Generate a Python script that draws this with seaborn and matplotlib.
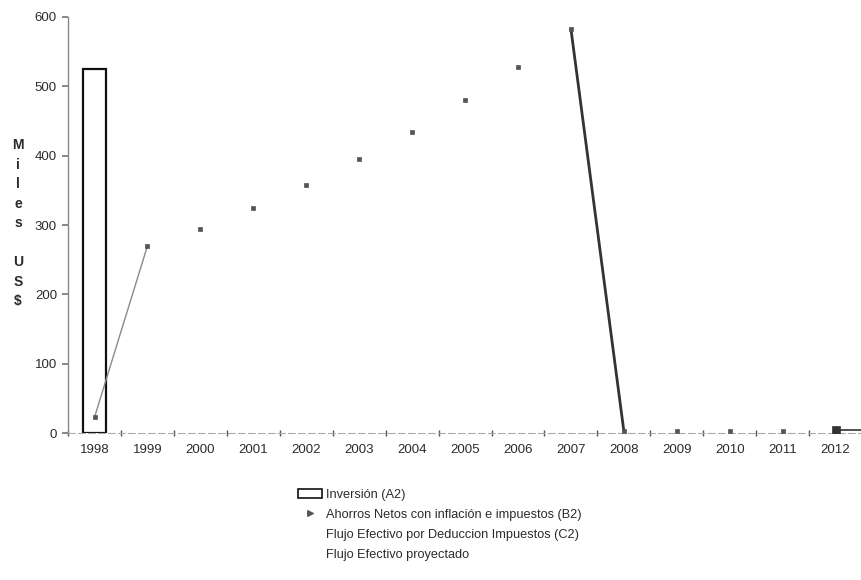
import numpy as np
import pandas as pd
import matplotlib
matplotlib.use("Agg")
import matplotlib.pyplot as plt
from matplotlib.patches import Patch
from matplotlib.lines import Line2D
import seaborn as sns

sns.set_theme(style="white")
plt.rcParams["font.family"] = ["Liberation Sans", "DejaVu Sans"]

# Data (miles de US$)
anios = ["1998", "1999", "2000", "2001", "2002", "2003", "2004", "2005",
         "2006", "2007", "2008", "2009", "2010", "2011", "2012"]
inversion = [525, 0, 0, 0, 0, 0, 0, 0, 0, 0, 0, 0, 0, 0, 0]
ahorros = [23, 270, 294, 324, 358, 395, 434, 480, 528, 583, 3, 3, 3, 3, 4]
yticks = [0, 100, 200, 300, 400, 500, 600]

df = pd.DataFrame({"anio": anios, "inversion": inversion, "ahorros": ahorros})
df["pos"] = np.arange(len(anios))

fig = plt.figure(figsize=(8.62, 5.80), dpi=100)
ax = fig.add_axes([0.079, 0.2534, 0.921, 0.7173])

ink = "#2b2b2b"

# Investment bar (white fill, black outline); empty years draw nothing
sns.barplot(data=df, x="pos", y="inversion", ax=ax, width=0.43,
            color="white", edgecolor="#111111", linewidth=1.6,
            native_scale=True)
for p in ax.patches:
    if p.get_height() == 0:
        p.set_visible(False)

# Connecting strokes of the savings series
tramo_ini = df.iloc[0:2]
tramo_fin = df.iloc[9:11]
sns.lineplot(data=tramo_ini, x="pos", y="ahorros", ax=ax, color="#8a8a8a",
             linewidth=1.0, legend=False)
sns.lineplot(data=tramo_fin, x="pos", y="ahorros", ax=ax, color="#333333",
             linewidth=2.0, legend=False)
ax.plot([df["pos"].iloc[-1], df["pos"].iloc[-1] + 0.5],
        [df["ahorros"].iloc[-1], df["ahorros"].iloc[-1]],
        color="#333333", linewidth=1.2)

# Savings markers
sns.scatterplot(data=df.iloc[:-1], x="pos", y="ahorros", ax=ax, marker="s",
                s=12, color="#555555", edgecolor="#555555", linewidth=0.5,
                legend=False, zorder=5)
sns.scatterplot(data=df.iloc[-1:], x="pos", y="ahorros", ax=ax, marker="s",
                s=40, color="#333333", edgecolor="#333333", linewidth=0.5,
                legend=False, zorder=5)

ax.set_xlim(-0.5, len(anios) - 0.5)
ax.set_ylim(0, 600)
ax.set_yticks(yticks)
ax.set_yticklabels([str(v) for v in yticks], fontsize=9.5, color=ink)
ax.set_xticks(df["pos"])
ax.set_xticklabels(anios, fontsize=9.5, color=ink)
ax.set_xticks(np.arange(-0.5, len(anios), 1.0), minor=True)
ax.tick_params(axis="x", which="major", length=0, pad=8)
ax.tick_params(axis="x", which="minor", length=5, color="#555555",
               direction="inout", bottom=True, width=1.0)
ax.tick_params(axis="y", length=4, color="#777777", left=True, pad=4)
ax.set_xlabel("")
ax.set_ylabel("")

for s in ["top", "right"]:
    ax.spines[s].set_visible(False)
ax.spines["left"].set_color("#888888")
ax.spines["left"].set_linewidth(1.0)
ax.spines["bottom"].set_color("#aaaaaa")
ax.spines["bottom"].set_linewidth(0.8)
ax.spines["bottom"].set_linestyle((0, (6, 3)))

# Vertical axis title, one letter per line
fig.text(0.021, 0.762, "M\ni\nl\ne\ns\n\nU\nS\n$", ha="center", va="top",
         fontsize=10, fontweight="bold", color=ink, linespacing=1.5)

handles = [
    Patch(facecolor="white", edgecolor="#111111", linewidth=1.2),
    Line2D([], [], marker=r"$\blacktriangleright$", markersize=4,
           color="#555555", linestyle="none"),
    Line2D([], [], color="none"),
    Line2D([], [], color="none"),
]
labels = [
    "Inversión (A2)",
    "Ahorros Netos con inflación e impuestos (B2)",
    "Flujo Efectivo por Deduccion Impuestos (C2)",
    "Flujo Efectivo proyectado",
]
fig.legend(handles, labels, loc="upper left", bbox_to_anchor=(0.338, 0.168),
           frameon=False, fontsize=9.2, handlelength=1.9, handletextpad=0.3,
           labelspacing=0.62, borderpad=0, labelcolor=ink)

fig.savefig("out.png", dpi=100)
